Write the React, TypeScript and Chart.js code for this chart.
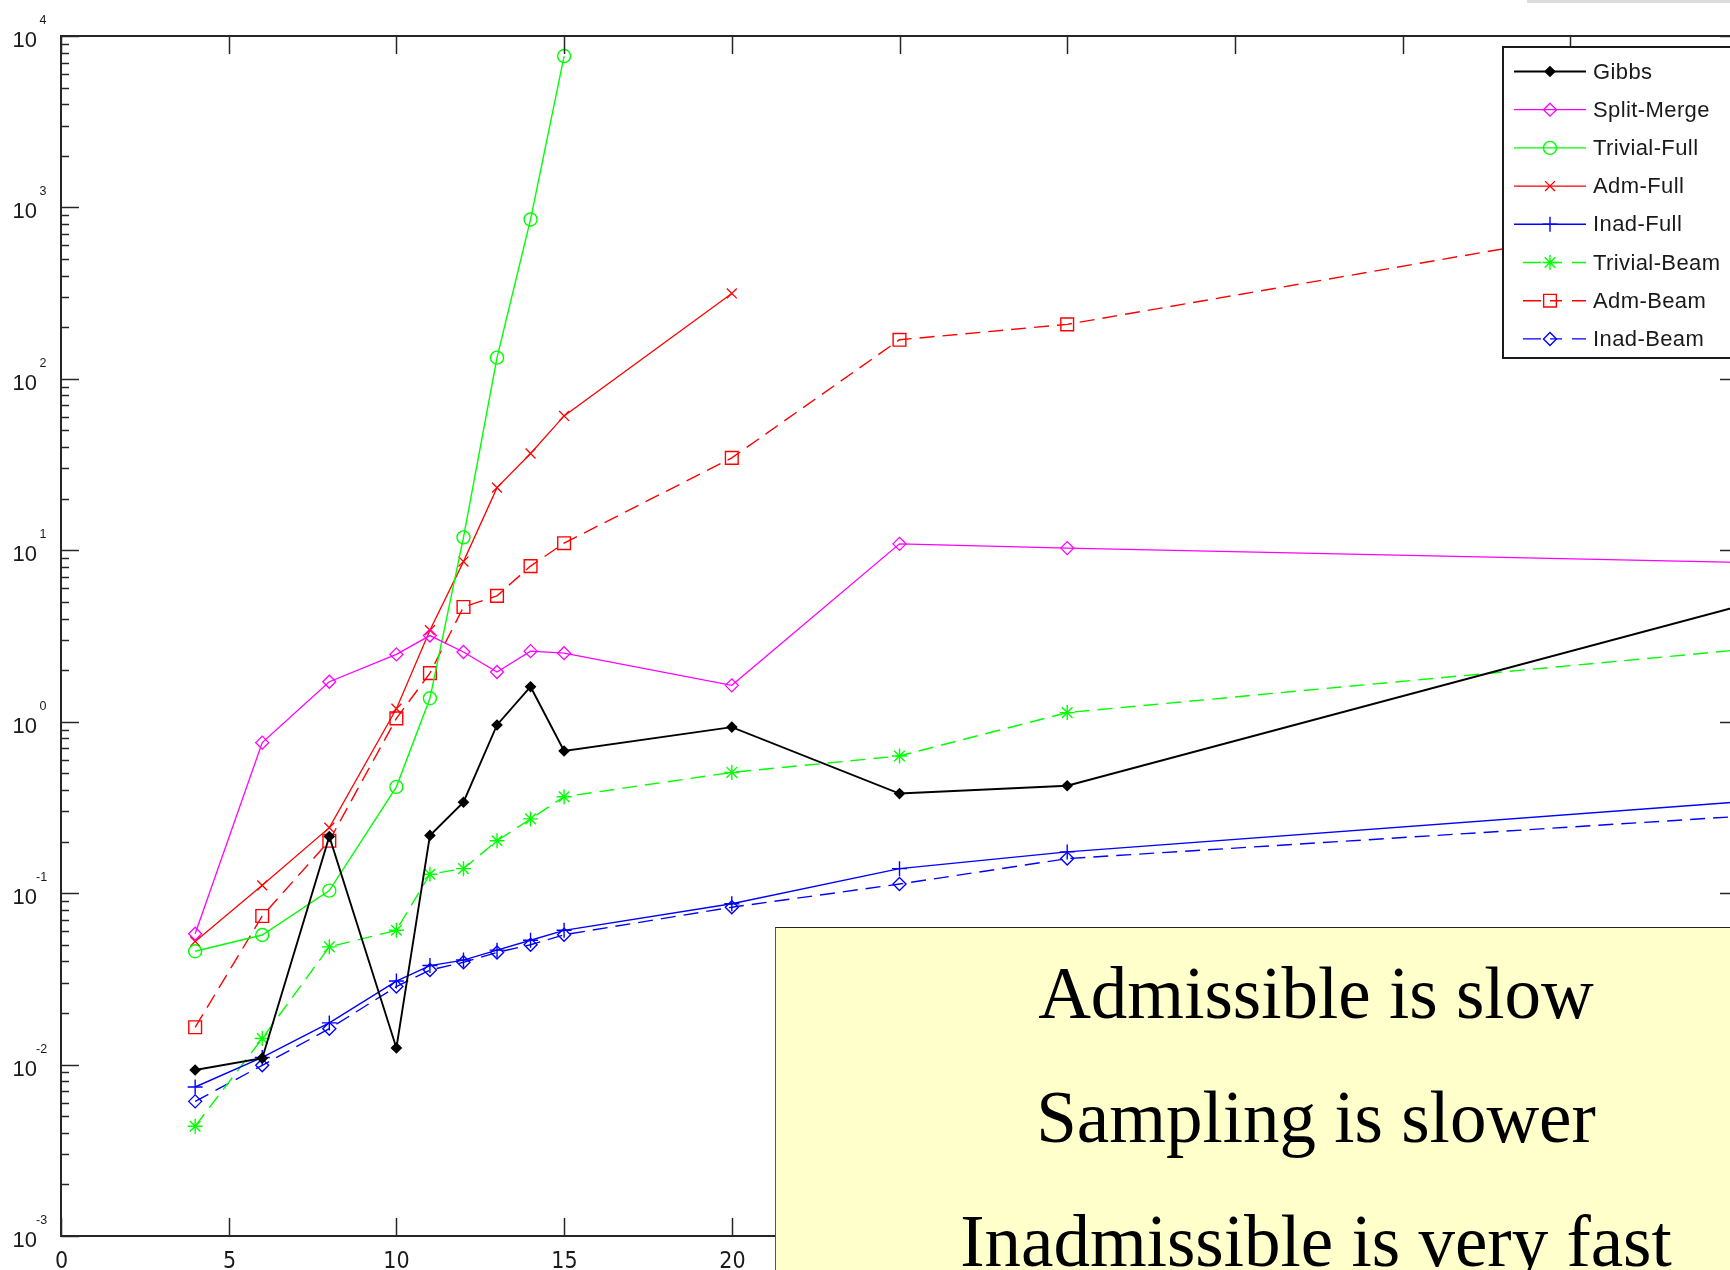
import React, { useEffect, useRef } from "react";
import { Chart, registerables } from "chart.js";
import { drawPoint } from "chart.js/helpers";

Chart.register(...registerables);

// ---- data ----
const xValues = [4, 6, 8, 10, 11, 12, 13, 14, 15, 20, 25, 30, 50];
const gibbs = [0.0093, 0.0109, 0.214, 0.0125, 0.217, 0.339, 0.957, 1.6, 0.675, 0.93, 0.381, 0.423, 4.7];
const splitMerge = [0.058, 0.755, 1.71, 2.47, 3.18, 2.55, 1.95, 2.58, 2.51, 1.63, 10.9, 10.3, 8.5];
const trivialFull = [0.0458, 0.057, 0.1035, 0.417, 1.37, 11.9, 133, 851, 7640];
const admFull = [0.0523, 0.111, 0.241, 1.19, 3.42, 8.59, 23.2, 36.7, 60.8, 315];
const inadFull = [0.0074, 0.011, 0.0175, 0.0307, 0.0378, 0.0407, 0.0465, 0.0531, 0.0607, 0.0867, 0.139, 0.174, 0.34];
const trivialBeam = [0.00437, 0.0142, 0.0486, 0.0607, 0.129, 0.139, 0.202, 0.271, 0.365, 0.506, 0.631, 1.13, 2.62];
const admBeam = [0.0165, 0.0736, 0.202, 1.045, 1.92, 4.67, 5.42, 8.09, 11.0, 34.6, 169, 208, 990];
const inadBeam = [0.0061, 0.0099, 0.0162, 0.0285, 0.0356, 0.0395, 0.0451, 0.05, 0.0572, 0.0828, 0.113, 0.159, 0.28];

const xTickValues = [0, 5, 10, 15, 20, 25, 30, 35, 40, 45, 50];
const xTickLabels = ["0", "5", "10", "15", "20", "25", "30", "35", "40", "45", "50"];
const yTickExponents = [-3, -2, -1, 0, 1, 2, 3, 4];

const seriesNames = ["Gibbs", "Split-Merge", "Trivial-Full", "Adm-Full", "Inad-Full", "Trivial-Beam", "Adm-Beam", "Inad-Beam"];
const annotationLines = ["Admissible is slow", "Sampling is slower", "Inadmissible is very fast"];

const DASH = [15, 8];

type Style = { color: string; dash: number[]; marker: string; radius: number; fill: boolean; width: number };
const styles: Style[] = [
  { color: "#000000", dash: [], marker: "rectRot", radius: 4.5, fill: true, width: 1.9 },
  { color: "#ff00ff", dash: [], marker: "rectRot", radius: 6.5, fill: false, width: 1.3 },
  { color: "#00ff00", dash: [], marker: "circle", radius: 6.5, fill: false, width: 1.4 },
  { color: "#ff0000", dash: [], marker: "crossRot", radius: 7, fill: false, width: 1.3 },
  { color: "#0000ff", dash: [], marker: "cross", radius: 7.5, fill: false, width: 1.4 },
  { color: "#00ff00", dash: DASH, marker: "star", radius: 7.5, fill: false, width: 1.4 },
  { color: "#ff0000", dash: DASH, marker: "rect", radius: 9, fill: false, width: 1.4 },
  { color: "#0000ff", dash: DASH, marker: "rectRot", radius: 6.5, fill: false, width: 1.4 },
];
const seriesValues = [gibbs, splitMerge, trivialFull, admFull, inadFull, trivialBeam, admBeam, inadBeam];

const axesPlugin = {
  id: "matlabAxes",
  afterDraw(chart: any) {
    const { ctx, chartArea: a, scales } = chart;
    const xs = scales.x;
    const ys = scales.y;
    ctx.save();
    const ln = (x1: number, y1: number, x2: number, y2: number) => {
      ctx.beginPath();
      ctx.moveTo(x1, y1);
      ctx.lineTo(x2, y2);
      ctx.stroke();
    };
    ctx.strokeStyle = "#262626";
    ctx.lineWidth = 2;
    ctx.strokeRect(a.left, a.top, a.right - a.left, a.bottom - a.top);
    ctx.lineWidth = 1.5;
    ctx.fillStyle = "#1a1a1a";
    // x ticks
    ctx.font = '23px "Liberation Sans Narrow", "DejaVu Sans Condensed", "Liberation Sans", sans-serif';
    ctx.textAlign = "center";
    ctx.textBaseline = "alphabetic";
    xTickValues.forEach((v, i) => {
      const px = Math.round(xs.getPixelForValue(v)) + 0.5;
      ln(px, a.bottom, px, a.bottom - 18);
      ln(px, a.top, px, a.top + 18);
      ctx.fillText(xTickLabels[i], px, a.bottom + 32);
    });
    // y ticks
    yTickExponents.forEach((e) => {
      const py = Math.round(ys.getPixelForValue(Math.pow(10, e))) + 0.5;
      ln(a.left, py, a.left + 18, py);
      ln(a.right, py, a.right - 18, py);
      if (e < 4) {
        for (let m = 2; m <= 9; m++) {
          const pm = Math.round(ys.getPixelForValue(m * Math.pow(10, e))) + 0.5;
          ln(a.left, pm, a.left + 8, pm);
          ln(a.right, pm, a.right - 8, pm);
        }
      }
      ctx.font = '22px "Liberation Sans", Arial, sans-serif';
      ctx.textAlign = "right";
      ctx.fillText("10", 37, py + 10.5);
      ctx.font = '12.5px "Liberation Sans", Arial, sans-serif';
      ctx.textAlign = "left";
      ctx.fillText(String(e), e < 0 ? 36 : 39.5, py - 12.5);
    });

    // legend
    const lx = 1503;
    const ly = 47;
    ctx.fillStyle = "#ffffff";
    ctx.fillRect(lx, ly, 400, 311);
    ctx.strokeStyle = "#1a1a1a";
    ctx.lineWidth = 2;
    ctx.strokeRect(lx, ly, 400, 311);
    seriesNames.forEach((name, i) => {
      const st = styles[i];
      const y = 71.5 + i * 38.2;
      ctx.strokeStyle = st.color;
      ctx.lineWidth = st.width;
      ctx.beginPath();
      if (st.dash.length) {
        ctx.moveTo(1523, y);
        ctx.lineTo(1541, y);
        ctx.moveTo(1550, y);
        ctx.lineTo(1562, y);
        ctx.moveTo(1572, y);
        ctx.lineTo(1586, y);
      } else {
        ctx.moveTo(1514, y);
        ctx.lineTo(1586, y);
      }
      ctx.stroke();
      ctx.fillStyle = st.fill ? st.color : "rgba(0,0,0,0)";
      ctx.strokeStyle = st.color;
      ctx.lineWidth = st.width;
      drawPoint(ctx, { pointStyle: st.marker as any, radius: st.radius, rotation: 0, borderWidth: st.width }, 1550, y);
      ctx.fillStyle = "#1a1a1a";
      ctx.font = '22px "Liberation Sans", Arial, sans-serif';
      (ctx as any).letterSpacing = "0.4px";
      ctx.textAlign = "left";
      ctx.textBaseline = "middle";
      ctx.fillText(name, 1593, y + 1);
      (ctx as any).letterSpacing = "0px";
      ctx.textBaseline = "alphabetic";
    });
    ctx.restore();
  },
};

export default function App() {
  const ref = useRef<HTMLCanvasElement | null>(null);
  useEffect(() => {
    if (!ref.current) return;
    const datasets = seriesNames.map((name, i) => {
      const st = styles[i];
      const vals = seriesValues[i];
      return {
        label: name,
        data: vals.map((v, j) => ({ x: xValues[j], y: v })),
        borderColor: st.color,
        borderWidth: st.width,
        borderDash: st.dash,
        backgroundColor: st.fill ? st.color : "rgba(0,0,0,0)",
        pointStyle: st.marker,
        pointRadius: st.radius,
        pointBorderWidth: st.width,
        pointBorderColor: st.color,
        pointBackgroundColor: st.fill ? st.color : "rgba(0,0,0,0)",
        tension: 0,
        fill: false,
      };
    });
    const chart = new Chart(ref.current, {
      type: "line",
      data: { datasets } as any,
      options: {
        animation: false,
        responsive: false,
        devicePixelRatio: 1,
        layout: { padding: { left: 0, top: 36, right: 62, bottom: 0 } },
        plugins: { legend: { display: false }, tooltip: { enabled: false } },
        scales: {
          x: {
            type: "linear",
            min: 0,
            max: 50,
            ticks: { display: false },
            grid: { display: false },
            border: { display: false },
            afterFit: (s: any) => {
              s.height = 34;
            },
          },
          y: {
            type: "logarithmic",
            min: 1e-3,
            max: 1e4,
            ticks: { display: false },
            grid: { display: false },
            border: { display: false },
            afterFit: (s: any) => {
              s.width = 61;
            },
          },
        },
      } as any,
      plugins: [axesPlugin],
    });
    return () => chart.destroy();
  }, []);

  return (
    <div style={{ position: "absolute", left: 0, top: 0, width: 1730, height: 1270, overflow: "hidden", background: "#fff" }}>
      <canvas ref={ref} width={1800} height={1270} style={{ display: "block", width: 1800, height: 1270 }} />
      <div style={{ position: "absolute", left: 1527, top: 0, width: 203, height: 3, background: "#dcdcdc" }} />
      <div
        style={{
          position: "absolute",
          left: 775,
          top: 927,
          width: 1081,
          height: 400,
          boxSizing: "border-box",
          background: "#ffffcc",
          borderTop: "1px solid #222",
          borderLeft: "1px solid #555",
          paddingTop: 4,
          textAlign: "center",
          fontFamily: '"Liberation Serif", "Times New Roman", serif',
          fontSize: 73,
          lineHeight: "124px",
          color: "#000",
          whiteSpace: "nowrap",
        }}
      >
        {annotationLines.map((t) => (
          <div key={t}>{t}</div>
        ))}
      </div>
    </div>
  );
}
